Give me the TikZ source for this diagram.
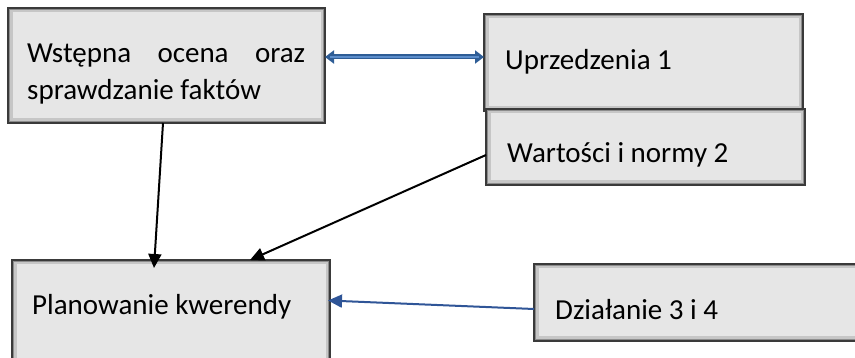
\documentclass[tikz,border=0pt]{standalone}
\usepackage{fontspec}
\setmainfont{Carlito}
\usetikzlibrary{arrows.meta}
\definecolor{boxfill}{HTML}{E6E6E6}
\definecolor{boxedge}{HTML}{3A3A3A}
\definecolor{bevelout}{HTML}{8C8C8C}
\definecolor{bevelin}{HTML}{C6C6C6}
\definecolor{linkblue}{HTML}{2F5597}
\definecolor{pairedge}{HTML}{2E5D96}
\definecolor{pairblue}{HTML}{5B8DCB}
\tikzset{
  panel/.style={draw=boxedge, line width=1.3pt, fill=boxfill, inner sep=0pt,
    outer sep=0pt, anchor=north west,
    path picture={
      \draw[bevelin, line width=9pt] (path picture bounding box.south west)
        rectangle (path picture bounding box.north east);
      \draw[bevelout, line width=4pt] (path picture bounding box.south west)
        rectangle (path picture bounding box.north east);}},
  txt/.style={anchor=base west, inner sep=0pt, font=\fontsize{29}{34}\selectfont},
  flow/.style={line width=2pt, -{Triangle[length=14pt,width=13pt]}},
}
\begin{document}
\begin{tikzpicture}[x=1pt, y=-1pt]
  \useasboundingbox (0,0) rectangle (855,358);
  \clip (0,0) rectangle (855,358);

  % boxes
  \node[panel, minimum width=317pt, minimum height=115pt] (A) at (8,8) {};
  \node[panel, minimum width=319pt, minimum height=97pt]  (B) at (484,14) {};
  \node[panel, minimum width=319pt, minimum height=76pt]  (C) at (486,109) {};
  \node[panel, minimum width=318pt, minimum height=115pt] (D) at (12,260) {};
  \node[panel, minimum width=340pt, minimum height=77pt]  (E) at (534,264) {};

  % texts
  \node[txt] (tA1) at (27,63) {\makebox[278pt][s]{Wstępna ocena oraz}};
  \node[txt] (tA2) at (27,100) {sprawdzanie faktów};
  \node[txt] (tB) at (505,70) {Uprzedzenia 1};
  \node[txt] (tC) at (507,163) {Wartości i normy 2};
  \node[txt] (tD) at (32,315) {Planowanie kwerendy};
  \node[txt] (tE) at (555,320) {Działanie 3 i 4};

  % two-way link, dark rim with a lighter core
  \draw[pairedge, line width=5pt,
        {Triangle[length=9pt,width=13pt]}-{Triangle[length=9pt,width=13pt]}]
    ([yshift=8.5pt]A.east) -- ([yshift=5.5pt]B.west);
  \draw[pairblue, line width=2pt, shorten <=5pt, shorten >=5pt]
    ([yshift=8.5pt]A.east) -- ([yshift=5.5pt]B.west);

  % one-way connectors
  \draw[flow] ([xshift=-3.5pt]A.south) -- ([xshift=-17pt,yshift=-8pt]D.north);
  \draw[flow] ([yshift=-8pt]C.west) -- ([xshift=79pt]D.north);
  \draw[flow, linkblue] ([yshift=-6.5pt]E.west) -- ([xshift=-2pt,yshift=17pt]D.east);
\end{tikzpicture}
\end{document}
